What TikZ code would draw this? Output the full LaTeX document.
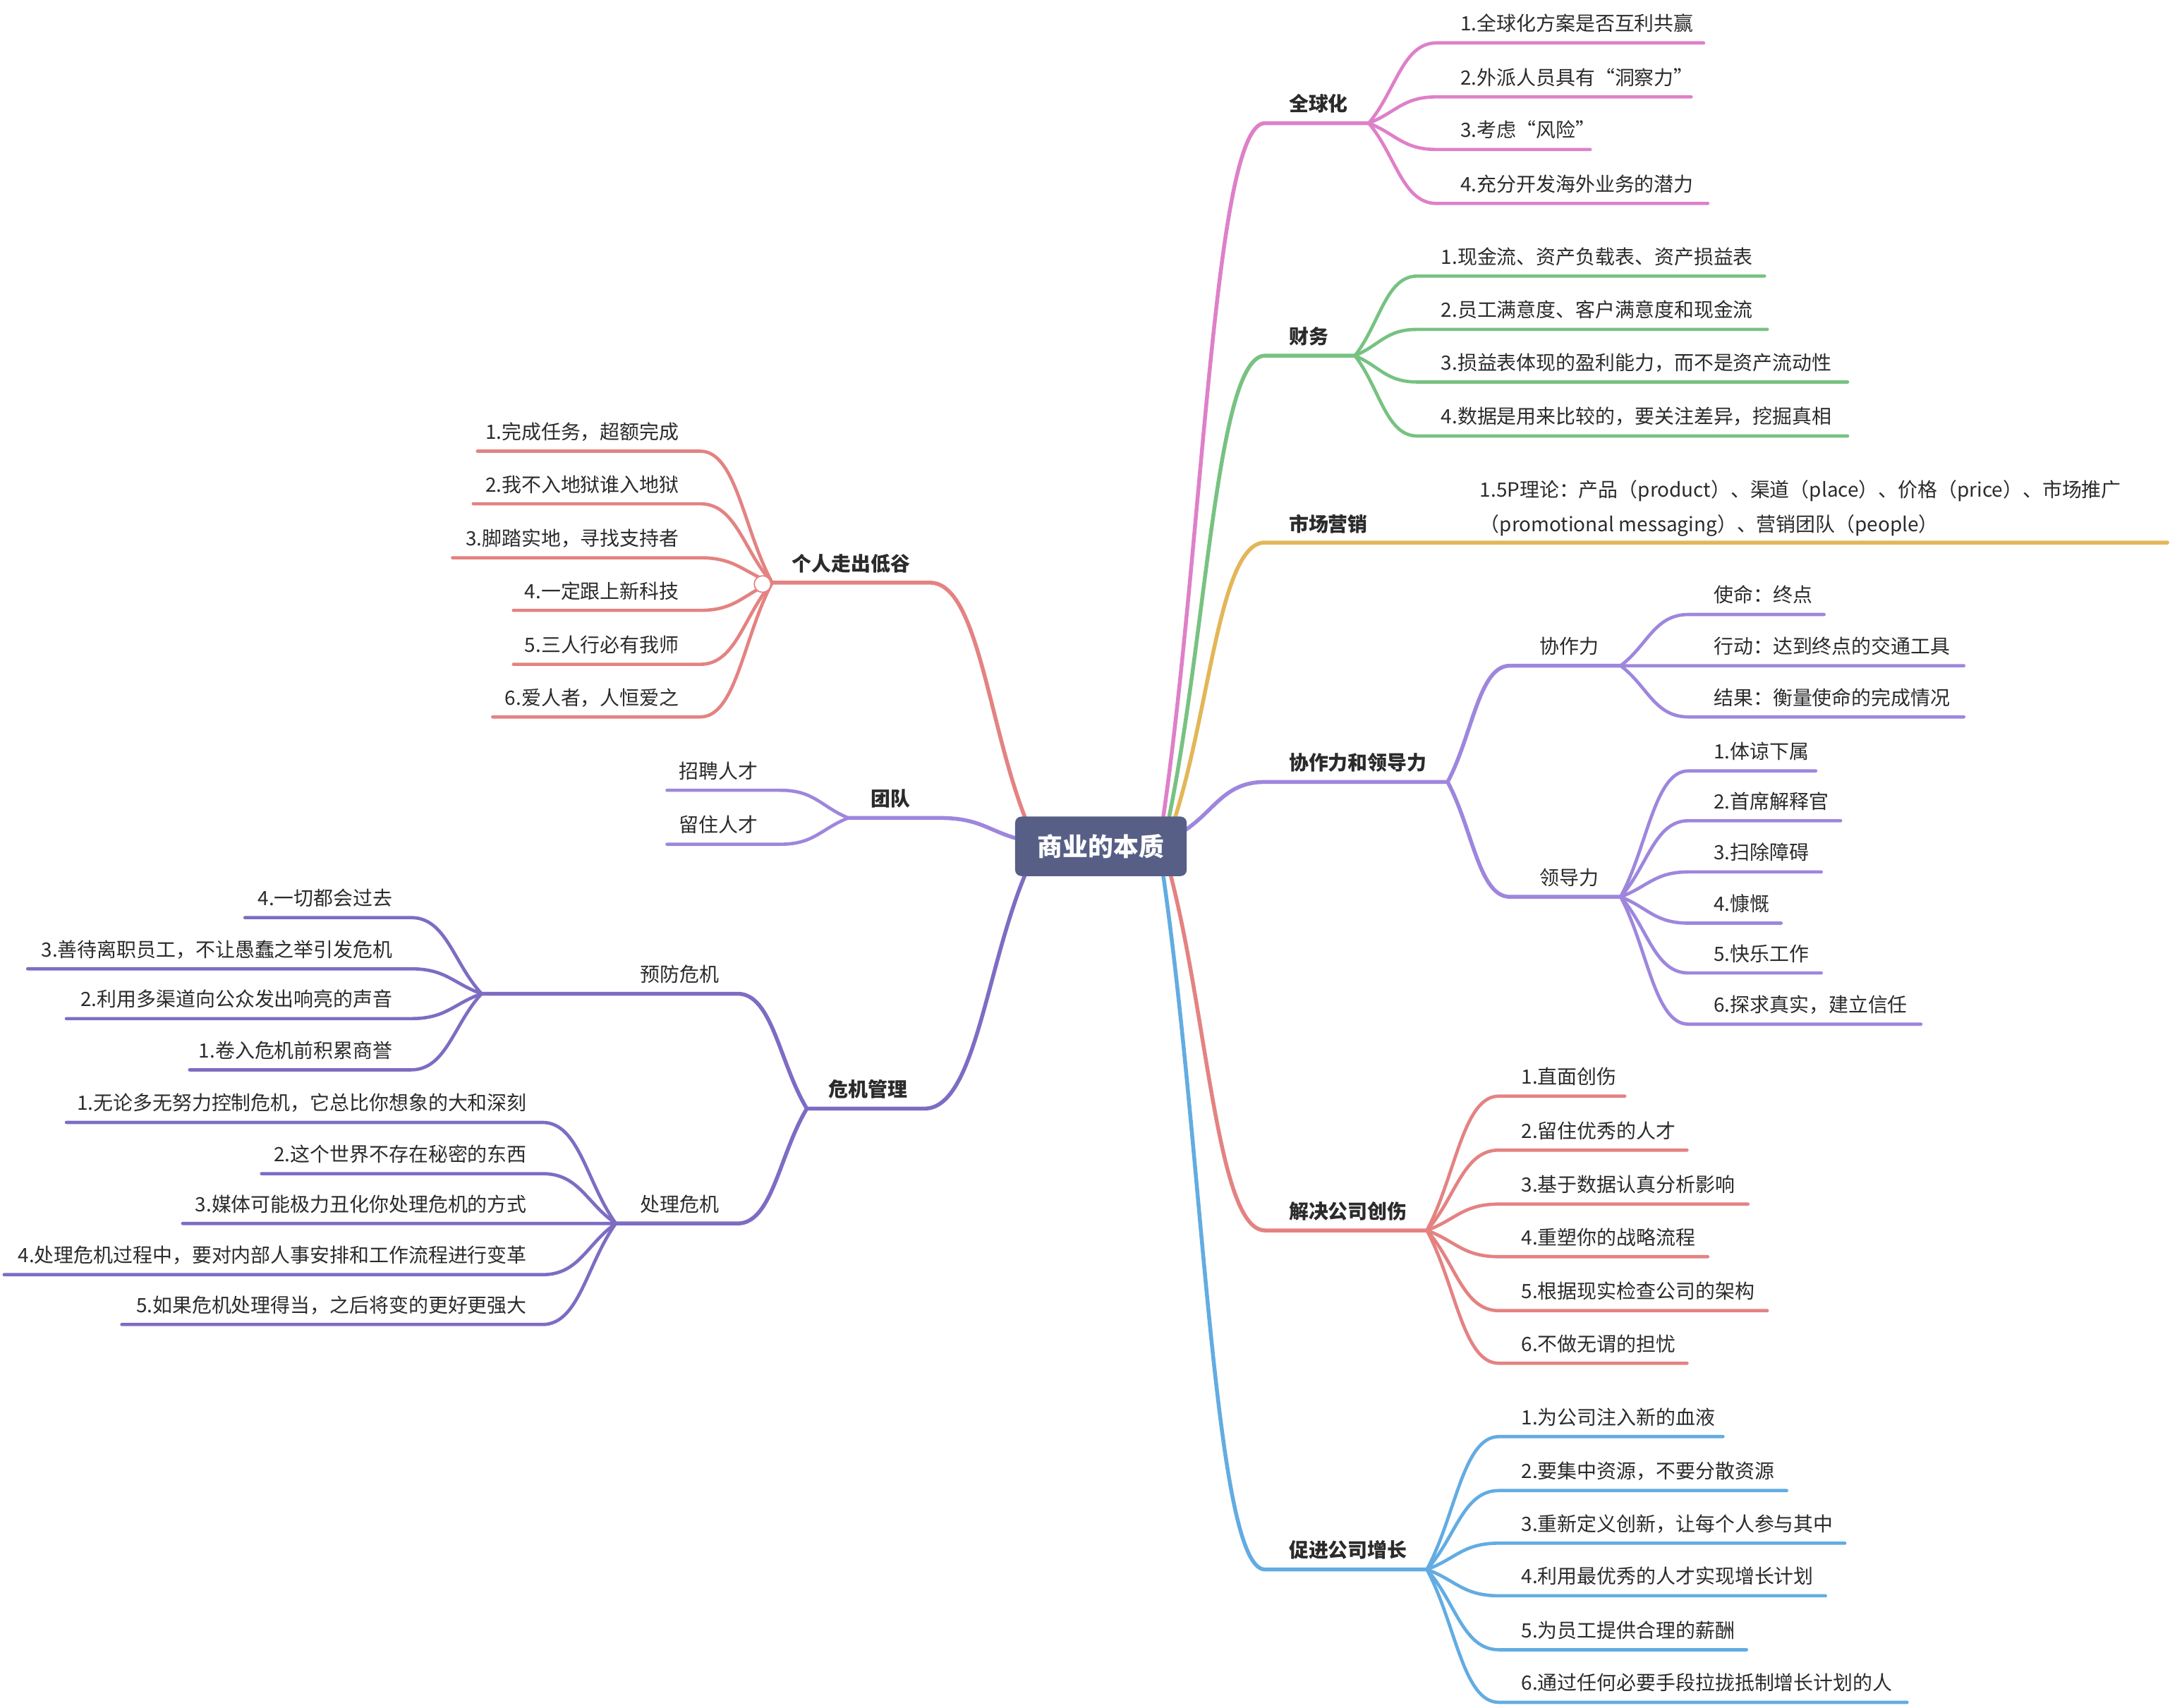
\documentclass[tikz,border=0pt]{standalone}
\usepackage{fontspec}
\setmainfont{Noto Sans CJK SC}
\usetikzlibrary{calc}

\definecolor{ink}{RGB}{43,43,43}
\definecolor{rootc}{RGB}{87,95,134}
\definecolor{globc}{RGB}{222,128,200}
\definecolor{finc}{RGB}{119,194,130}
\definecolor{mktc}{RGB}{227,182,88}
\definecolor{leadc}{RGB}{158,134,221}
\definecolor{hurtc}{RGB}{228,130,130}
\definecolor{growc}{RGB}{98,172,226}
\definecolor{crisc}{RGB}{126,108,195}

\tikzset{
  wire/.style={line width=1.35pt, line cap=round, line join=round},
  limb/.style={line width=1.6pt, line cap=round, line join=round},
  twig/.style={to path={let \p1=(\tikztostart), \p2=(\tikztotarget) in
      .. controls ($(\p1)!0.4!(\p2)$) and (0.5*\x1+0.5*\x2,\y2) .. (\p2)}},
  topic/.style={inner sep=0pt, text=ink, font=\fontsize{8.1}{9}\selectfont\bfseries},
  leaf/.style={inner sep=0pt, text=ink, font=\fontsize{8.1}{9}\selectfont},
  rootbox/.style={rounded corners=0.09cm, fill=rootc, text=white, inner sep=0pt,
      minimum width=2.48cm, minimum height=0.86cm, font=\fontsize{10.4}{12}\selectfont\bfseries},
}

\begin{document}
\begin{tikzpicture}[x=0.02cm,y=-0.02cm]
    \path[use as bounding box, fill=white] (0,0) rectangle (1568,1234);

    % where the branches leave the root
    \coordinate (r-glob) at (840,594);
    \coordinate (r-fin) at (844,594);
    \coordinate (r-mkt) at (848,594);
    \coordinate (r-lead) at (853,602);
    \coordinate (r-hurt) at (845,629);
    \coordinate (r-grow) at (840,629);
    \coordinate (r-self) at (742,594);
    \coordinate (r-team) at (737,606.5);
    \coordinate (r-cris) at (742,629);

    % 全球化
    \coordinate (glob-a) at (914,89);
    \coordinate (glob-b) at (989,89);
    \node[topic, anchor=base west] (glob) at (931,80.5) {全球化};
    \draw[limb, globc] (r-glob) to[twig] (glob-a) -- (glob-b);
    \foreach \yu/\xe/\txt [count=\i] in {31/1231/{1.全球化方案是否互利共赢}, 70/1222/{2.外派人员具有“洞察力”},
        108/1149/{3.考虑“风险”}, 147/1234/{4.充分开发海外业务的潜力}} {
        \coordinate (glob-\i-a) at (1038,\yu);
        \coordinate (glob-\i-b) at (\xe,\yu);
        \node[leaf, anchor=base west] (glob-\i) at (1055,\yu-8.7) {\txt};
        \draw[wire, globc] (glob-b) to[twig] (glob-\i-a) -- (glob-\i-b);
    }

    % 财务
    \coordinate (fin-a) at (914,257);
    \coordinate (fin-b) at (979,257);
    \node[topic, anchor=base west] (fin) at (931,248.5) {财务};
    \draw[limb, finc] (r-fin) to[twig] (fin-a) -- (fin-b);
    \foreach \yu/\xe/\txt [count=\i] in {199.5/1275/{1.现金流、资产负载表、资产损益表}, 238/1277/{2.员工满意度、客户满意度和现金流},
        276/1335/{3.损益表体现的盈利能力，而不是资产流动性}, 315/1335/{4.数据是用来比较的，要关注差异，挖掘真相}} {
        \coordinate (fin-\i-a) at (1024,\yu);
        \coordinate (fin-\i-b) at (\xe,\yu);
        \node[leaf, anchor=base west] (fin-\i) at (1041,\yu-8.7) {\txt};
        \draw[wire, finc] (fin-b) to[twig] (fin-\i-a) -- (fin-\i-b);
    }

    % 市场营销
    \coordinate (mkt-a) at (914,392);
    \coordinate (mkt-b) at (1566,392);
    \node[topic, anchor=base west] (mkt) at (931,384) {市场营销};
    \draw[limb, mktc] (r-mkt) to[twig] (mkt-a) -- (mkt-b);
    \node[leaf, anchor=base west] (mkt-1) at (1069,359) {1.5P理论：产品（product）、渠道（place）、价格（price）、市场推广};
    \node[leaf, anchor=base west] (mkt-2) at (1069,384) {（promotional messaging）、营销团队（people）};

    % 协作力和领导力
    \coordinate (lead-a) at (914,565);
    \coordinate (lead-b) at (1046,565);
    \node[topic, anchor=base west] (lead) at (931,556.5) {协作力和领导力};
    \draw[limb, leadc] (r-lead) to[twig] (lead-a) -- (lead-b);

    \coordinate (coop-a) at (1091,481);
    \coordinate (coop-b) at (1171,481);
    \node[leaf, anchor=base west] (coop) at (1112,472.5) {协作力};
    \draw[limb, leadc] (lead-b) to[twig] (coop-a) -- (coop-b);
    \foreach \yu/\xe/\txt [count=\i] in {444/1318/{使命：终点}, 481/1419/{行动：达到终点的交通工具},
        518/1419/{结果：衡量使命的完成情况}} {
        \coordinate (coop-\i-a) at (1220,\yu);
        \coordinate (coop-\i-b) at (\xe,\yu);
        \node[leaf, anchor=base west] (coop-\i) at (1238,\yu-8.7) {\txt};
        \draw[wire, leadc] (coop-b) to[twig] (coop-\i-a) -- (coop-\i-b);
    }

    \coordinate (boss-a) at (1091,648);
    \coordinate (boss-b) at (1171,648);
    \node[leaf, anchor=base west] (boss) at (1112,639.5) {领导力};
    \draw[limb, leadc] (lead-b) to[twig] (boss-a) -- (boss-b);
    \foreach \yu/\xe/\txt [count=\i] in {557/1312/{1.体谅下属}, 593/1330/{2.首席解释官}, 630/1316/{3.扫除障碍},
        667/1287/{4.慷慨}, 703/1316/{5.快乐工作}, 740/1388/{6.探求真实，建立信任}} {
        \coordinate (boss-\i-a) at (1220,\yu);
        \coordinate (boss-\i-b) at (\xe,\yu);
        \node[leaf, anchor=base west] (boss-\i) at (1238,\yu-8.7) {\txt};
        \draw[wire, leadc] (boss-b) to[twig] (boss-\i-a) -- (boss-\i-b);
    }

    % 解决公司创伤
    \coordinate (hurt-a) at (914,889);
    \coordinate (hurt-b) at (1031,889);
    \node[topic, anchor=base west] (hurt) at (931,880.5) {解决公司创伤};
    \draw[limb, hurtc] (r-hurt) to[twig] (hurt-a) -- (hurt-b);
    \foreach \yu/\xe/\txt [count=\i] in {792/1174/{1.直面创伤}, 831/1219/{2.留住优秀的人才}, 870/1263/{3.基于数据认真分析影响},
        908/1234/{4.重塑你的战略流程}, 947/1277/{5.根据现实检查公司的架构}, 985/1219/{6.不做无谓的担忧}} {
        \coordinate (hurt-\i-a) at (1083,\yu);
        \coordinate (hurt-\i-b) at (\xe,\yu);
        \node[leaf, anchor=base west] (hurt-\i) at (1099,\yu-8.7) {\txt};
        \draw[wire, hurtc] (hurt-b) to[twig] (hurt-\i-a) -- (hurt-\i-b);
    }

    % 促进公司增长
    \coordinate (grow-a) at (914,1134);
    \coordinate (grow-b) at (1031,1134);
    \node[topic, anchor=base west] (grow) at (931,1125.5) {促进公司增长};
    \draw[limb, growc] (r-grow) to[twig] (grow-a) -- (grow-b);
    \foreach \yu/\xe/\txt [count=\i] in {1038/1245/{1.为公司注入新的血液}, 1077/1291/{2.要集中资源，不要分散资源},
        1115/1333/{3.重新定义创新，让每个人参与其中}, 1153/1319/{4.利用最优秀的人才实现增长计划},
        1192/1262/{5.为员工提供合理的薪酬}, 1230/1378/{6.通过任何必要手段拉拢抵制增长计划的人}} {
        \coordinate (grow-\i-a) at (1083,\yu);
        \coordinate (grow-\i-b) at (\xe,\yu);
        \node[leaf, anchor=base west] (grow-\i) at (1099,\yu-8.7) {\txt};
        \draw[wire, growc] (grow-b) to[twig] (grow-\i-a) -- (grow-\i-b);
    }

    % 个人走出低谷
    \coordinate (self-a) at (672,421);
    \coordinate (self-b) at (558,421);
    \node[topic, anchor=base east] (self) at (658,412.5) {个人走出低谷};
    \draw[limb, hurtc] (r-self) to[twig] (self-a) -- (self-b);
    \foreach \yu/\xe/\txt [count=\i] in {326/345/{1.完成任务，超额完成}, 364/342/{2.我不入地狱谁入地狱}, 403/327/{3.脚踏实地，寻找支持者},
        441/371/{4.一定跟上新科技}, 480/371/{5.三人行必有我师}, 518/356/{6.爱人者，人恒爱之}} {
        \coordinate (self-\i-a) at (506,\yu);
        \coordinate (self-\i-b) at (\xe,\yu);
        \node[leaf, anchor=base east] (self-\i) at (491,\yu-8.7) {\txt};
        \draw[wire, hurtc] (self-b) to[twig] (self-\i-a) -- (self-\i-b);
    }
    \node[circle, fill=white, draw=hurtc, line width=0.5pt, inner sep=0pt, minimum size=0.24cm] (self-knob) at (551,422) {};

    % 团队
    \coordinate (team-a) at (679,591);
    \coordinate (team-b) at (613,591);
    \node[topic, anchor=base east] (team) at (658,582.5) {团队};
    \draw[limb, leadc] (r-team) to[twig] (team-a) -- (team-b);
    \foreach \yu/\xe/\txt [count=\i] in {571/482/{招聘人才}, 610/482/{留住人才}} {
        \coordinate (team-\i-a) at (564,\yu);
        \coordinate (team-\i-b) at (\xe,\yu);
        \node[leaf, anchor=base east] (team-\i) at (548,\yu-8.7) {\txt};
        \draw[wire, leadc] (team-b) to[twig] (team-\i-a) -- (team-\i-b);
    }

    % 危机管理
    \coordinate (cris-a) at (668,801);
    \coordinate (cris-b) at (583,801);
    \node[topic, anchor=base east] (cris) at (656,792.5) {危机管理};
    \draw[limb, crisc] (r-cris) to[twig] (cris-a) -- (cris-b);

    \coordinate (prev-a) at (533,718);
    \coordinate (prev-b) at (348,718);
    \node[leaf, anchor=base east] (prev) at (520,709.5) {预防危机};
    \draw[limb, crisc] (cris-b) to[twig] (prev-a) -- (prev-b);
    \foreach \yu/\xe/\txt [count=\i] in {663/177/{4.一切都会过去}, 700/20/{3.善待离职员工，不让愚蠢之举引发危机},
        736/48/{2.利用多渠道向公众发出响亮的声音}, 773/137/{1.卷入危机前积累商誉}} {
        \coordinate (prev-\i-a) at (297,\yu);
        \coordinate (prev-\i-b) at (\xe,\yu);
        \node[leaf, anchor=base east] (prev-\i) at (284,\yu-8.7) {\txt};
        \draw[wire, crisc] (prev-b) to[twig] (prev-\i-a) -- (prev-\i-b);
    }

    \coordinate (deal-a) at (533,884);
    \coordinate (deal-b) at (445,884);
    \node[leaf, anchor=base east] (deal) at (520,875.5) {处理危机};
    \draw[limb, crisc] (cris-b) to[twig] (deal-a) -- (deal-b);
    \foreach \yu/\xe/\txt [count=\i] in {811/48/{1.无论多无努力控制危机，它总比你想象的大和深刻}, 848/189/{2.这个世界不存在秘密的东西},
        884/132/{3.媒体可能极力丑化你处理危机的方式}, 921/3/{4.处理危机过程中，要对内部人事安排和工作流程进行变革},
        957/88/{5.如果危机处理得当，之后将变的更好更强大}} {
        \coordinate (deal-\i-a) at (392,\yu);
        \coordinate (deal-\i-b) at (\xe,\yu);
        \node[leaf, anchor=base east] (deal-\i) at (381,\yu-8.7) {\txt};
        \draw[wire, crisc] (deal-b) to[twig] (deal-\i-a) -- (deal-\i-b);
    }

    % root on top
    \node[rootbox] (root) at (795.5,611.5) {商业的本质};

\end{tikzpicture}
\end{document}
